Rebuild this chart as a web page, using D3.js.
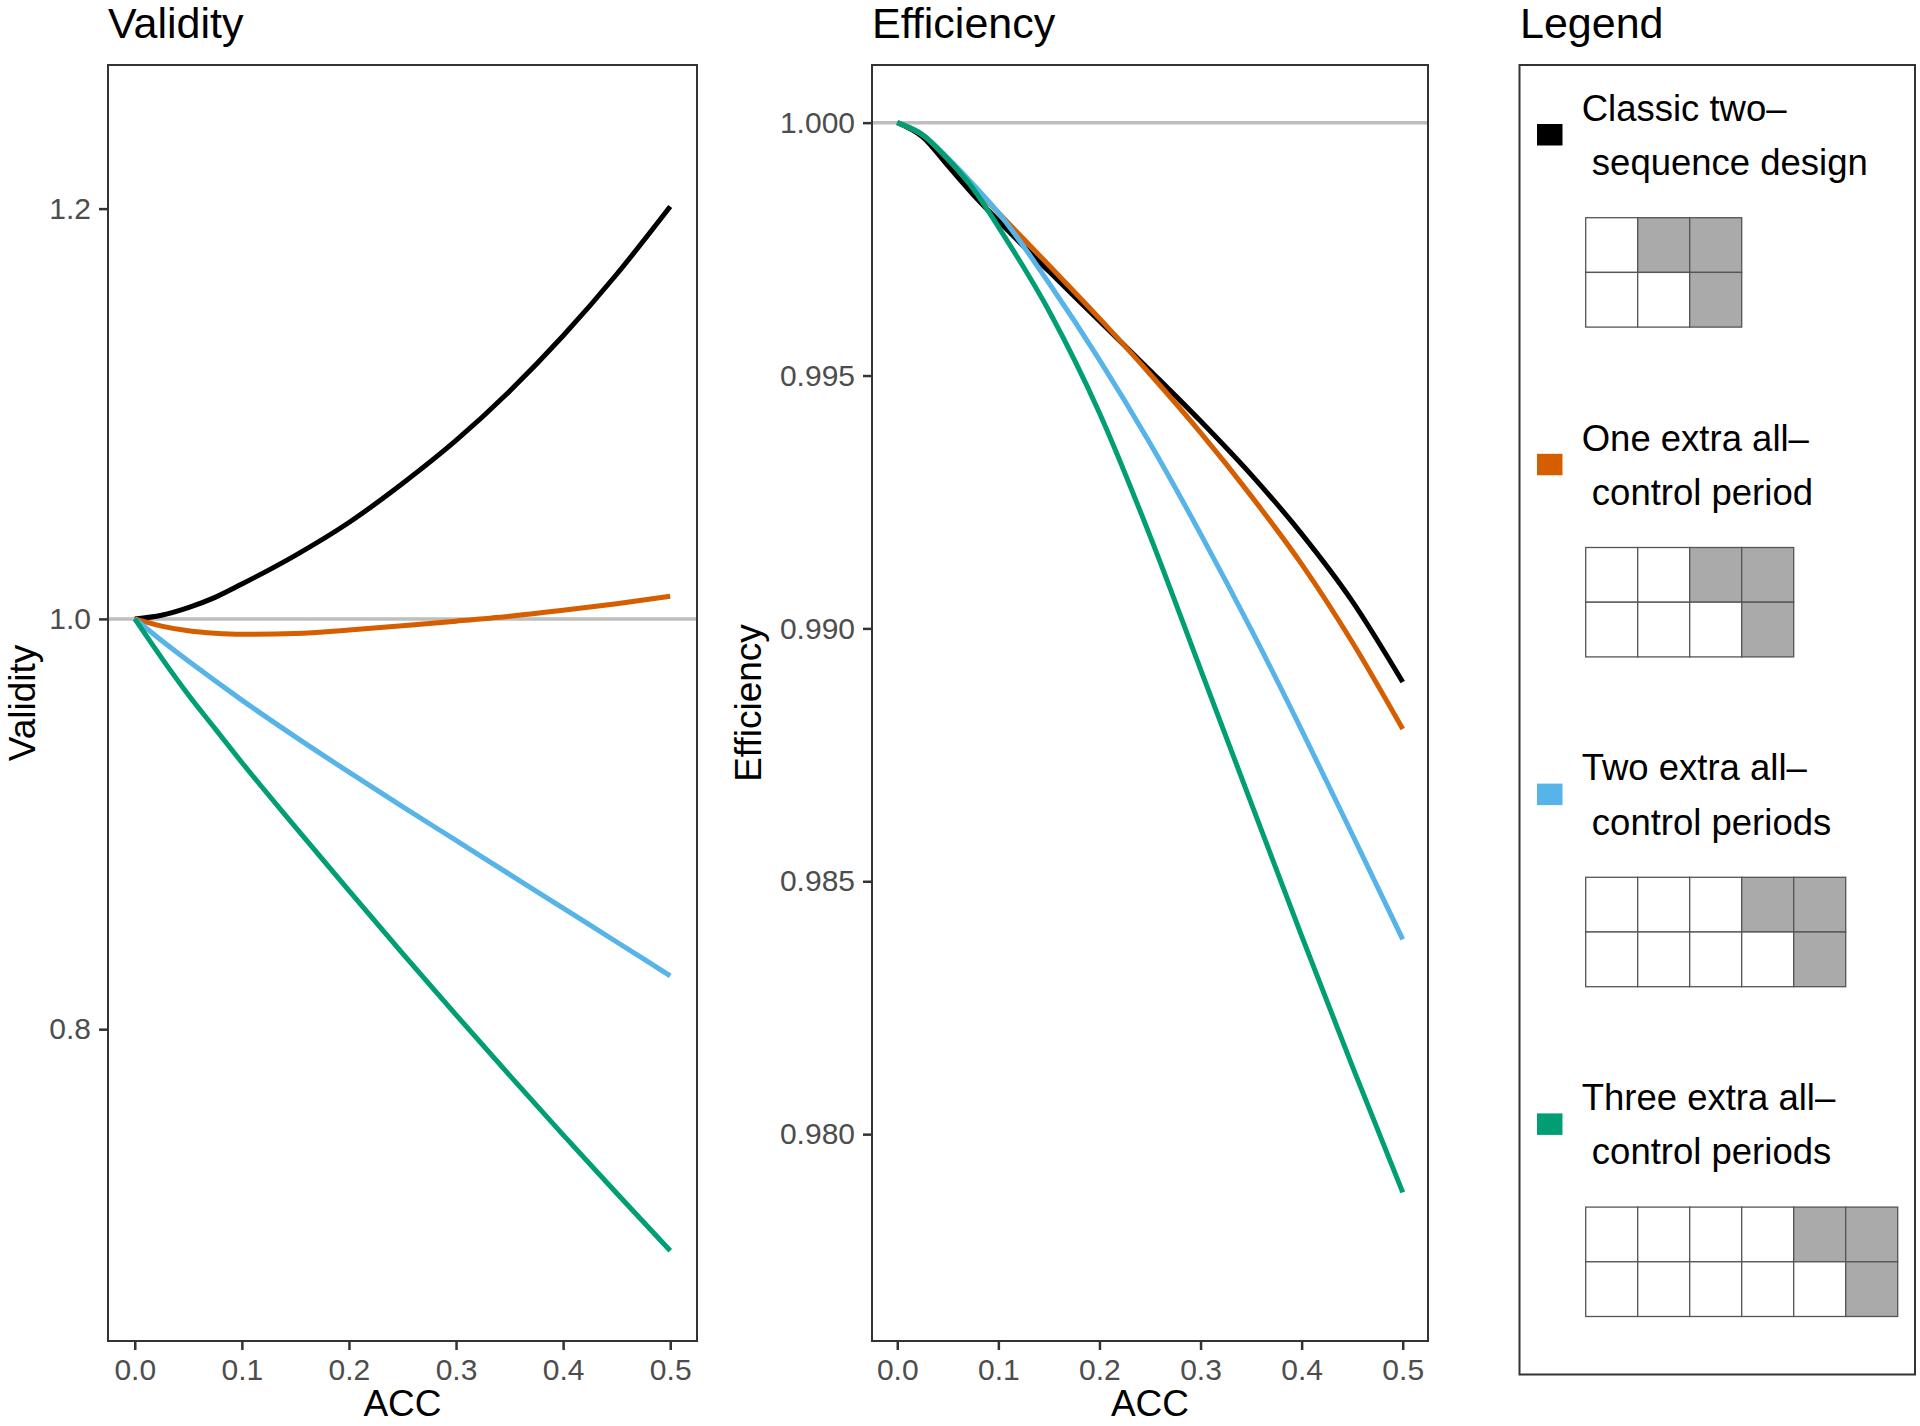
<!DOCTYPE html>
<html>
<head>
<meta charset="utf-8">
<script src="https://cdn.jsdelivr.net/npm/d3@7"></script>
<style>
  html, body { margin: 0; padding: 0; background: #ffffff; }
  svg { display: block; font-family: "Liberation Sans", Arial, Helvetica, sans-serif; }
</style>
</head>
<body>
<svg id="chart" width="1920" height="1426"></svg>
<script>
// ---------------- DATA ----------------
const acc = [0, 0.025, 0.05, 0.075, 0.1, 0.15, 0.2, 0.25, 0.3, 0.35, 0.4, 0.45, 0.5];

const seriesNames = [
  "Classic two-sequence design",
  "One extra all-control period",
  "Two extra all-control periods",
  "Three extra all-control periods"
];
const seriesColors = ["#000000", "#D55E00", "#56B4E9", "#009E73"];

const validityClassic = [1.000, 1.0018, 1.0055, 1.0105, 1.0170, 1.0310, 1.047, 1.066, 1.087, 1.111, 1.138, 1.168, 1.201];
const validityOne     = [1.000, 0.9965, 0.9942, 0.9930, 0.9925, 0.9929, 0.9946, 0.9967, 0.9989, 1.0013, 1.0042, 1.0074, 1.0110];
const validityTwo     = [1.000, 0.9895, 0.9795, 0.9698, 0.9604, 0.9425, 0.9253, 0.9085, 0.892, 0.8755, 0.859, 0.8425, 0.826];
const validityThree   = [1.000, 0.981, 0.963, 0.9465, 0.930, 0.8985, 0.8675, 0.837, 0.807, 0.7775, 0.7485, 0.720, 0.692];

const efficiencyClassic = [1.0, 0.99972, 0.99915, 0.99858, 0.99806, 0.99706, 0.99608, 0.99510, 0.99410, 0.99304, 0.99187, 0.99054, 0.98894];
const efficiencyOne     = [1.0, 0.99976, 0.99928, 0.99875, 0.99822, 0.99718, 0.99613, 0.99503, 0.99387, 0.99262, 0.99127, 0.98973, 0.98801];
const efficiencyTwo     = [1.0, 0.99976, 0.99930, 0.99878, 0.99822, 0.99683, 0.99531, 0.99366, 0.99187, 0.98998, 0.98799, 0.98593, 0.98385];
const efficiencyThree   = [1.0, 0.99976, 0.99928, 0.99870, 0.99794, 0.99628, 0.99426, 0.99183, 0.98919, 0.98655, 0.98392, 0.98135, 0.97885];

const xTicks = [0, 0.1, 0.2, 0.3, 0.4, 0.5];
const validityTicks = [0.8, 1.0, 1.2];
const efficiencyTicks = [0.980, 0.985, 0.990, 0.995, 1.000];

const legendLine1 = ["Classic two\u2013", "One extra all\u2013", "Two extra all\u2013", "Three extra all\u2013"];
const legendLine2 = [" sequence design", " control period", " control periods", " control periods"];
// design grids: 1 = intervention (grey), 0 = control (white)
const designTop    = ["011", "0011", "00011", "000011"];
const designBottom = ["001", "0001", "00001", "000001"];

// ---------------- DRAWING ----------------
const svg = d3.select("#chart");
svg.append("rect").attr("width", 1920).attr("height", 1426).attr("fill", "#ffffff");

const panelTop = 65, panelBottom = 1341;
const tickColor = "#333333", labelColor = "#4D4D4D";

function drawPanel(opts) {
  const {left, right, yDomain, yTicks, yFormat, series, title, yLabel, yLabelX, refY} = opts;
  const x = d3.scaleLinear().domain([-0.025, 0.525]).range([left, right]);
  const y = d3.scaleLinear().domain(yDomain).range([panelBottom, panelTop]);
  const g = svg.append("g");

  g.append("text").attr("x", left).attr("y", 38)
    .attr("font-size", 43).attr("fill", "#000").text(title);

  g.append("line")
    .attr("x1", left).attr("x2", right)
    .attr("y1", y(refY)).attr("y2", y(refY))
    .attr("stroke", "#BEBEBE").attr("stroke-width", 3.5);

  const line = d3.line()
    .x((d, i) => x(acc[i]))
    .y(d => y(d))
    .curve(d3.curveMonotoneX);
  series.forEach((s, k) => {
    g.append("path").attr("d", line(s))
      .attr("fill", "none").attr("stroke", seriesColors[k])
      .attr("stroke-width", 5).attr("stroke-linejoin", "round").attr("stroke-linecap", "butt");
  });

  g.append("rect").attr("x", left).attr("y", panelTop)
    .attr("width", right - left).attr("height", panelBottom - panelTop)
    .attr("fill", "none").attr("stroke", tickColor).attr("stroke-width", 2);

  const xa = g.append("g").attr("transform", `translate(0,${panelBottom})`)
    .call(d3.axisBottom(x).tickValues(xTicks).tickFormat(d3.format(".1f")).tickSize(9).tickPadding(9));
  const ya = g.append("g").attr("transform", `translate(${left},0)`)
    .call(d3.axisLeft(y).tickValues(yTicks).tickFormat(yFormat).tickSize(9).tickPadding(8));
  [xa, ya].forEach(a => {
    a.select(".domain").remove();
    a.selectAll(".tick line").attr("stroke", tickColor).attr("stroke-width", 2.5);
    a.selectAll(".tick text").attr("fill", labelColor).attr("font-size", 30)
      .attr("font-family", "'Liberation Sans', Arial, Helvetica, sans-serif");
  });

  g.append("text").attr("x", (left + right) / 2).attr("y", 1416)
    .attr("text-anchor", "middle").attr("font-size", 37).attr("fill", "#000").text("ACC");
  g.append("text")
    .attr("transform", `translate(${yLabelX},${(panelTop + panelBottom) / 2}) rotate(-90)`)
    .attr("text-anchor", "middle").attr("font-size", 37).attr("fill", "#000").text(yLabel);
}

drawPanel({
  left: 108, right: 697,
  yDomain: [0.648, 1.27], yTicks: validityTicks, yFormat: d3.format(".1f"),
  series: [validityClassic, validityOne, validityTwo, validityThree],
  title: "Validity", yLabel: "Validity", yLabelX: 35, refY: 1.0
});

drawPanel({
  left: 872, right: 1428,
  yDomain: [0.97591, 1.00114], yTicks: efficiencyTicks, yFormat: d3.format(".3f"),
  series: [efficiencyClassic, efficiencyOne, efficiencyTwo, efficiencyThree],
  title: "Efficiency", yLabel: "Efficiency", yLabelX: 761, refY: 1.0
});

// ---------------- LEGEND ----------------
const lg = svg.append("g");
lg.append("text").attr("x", 1520).attr("y", 38).attr("font-size", 43).attr("fill", "#000").text("Legend");
lg.append("rect").attr("x", 1519.5).attr("y", 65).attr("width", 395.5).attr("height", 1309.5)
  .attr("fill", "none").attr("stroke", tickColor).attr("stroke-width", 2);

const step = 329.8;
const cellW = 52, cellH = 54.7;
seriesNames.forEach((name, i) => {
  const base = 120.7 + i * step;
  lg.append("rect").attr("x", 1537).attr("y", base + 3.3).attr("width", 25.5).attr("height", 21.5)
    .attr("fill", seriesColors[i]);
  lg.append("text").attr("x", 1581.7).attr("y", base).attr("font-size", 36.5).attr("fill", "#000")
    .style("white-space", "pre").text(legendLine1[i]);
  lg.append("text").attr("x", 1581.7).attr("y", base + 54.3).attr("font-size", 36.5).attr("fill", "#000")
    .style("white-space", "pre").text(legendLine2[i]);

  const gridTop = 217.7 + i * step;
  [designTop[i], designBottom[i]].forEach((row, r) => {
    row.split("").forEach((c, j) => {
      lg.append("rect")
        .attr("x", 1585.7 + j * cellW).attr("y", gridTop + r * cellH)
        .attr("width", cellW).attr("height", cellH)
        .attr("fill", c === "1" ? "#AAAAAA" : "#FFFFFF")
        .attr("stroke", "#555555").attr("stroke-width", 1.3);
    });
  });
});
</script>
</body>
</html>
